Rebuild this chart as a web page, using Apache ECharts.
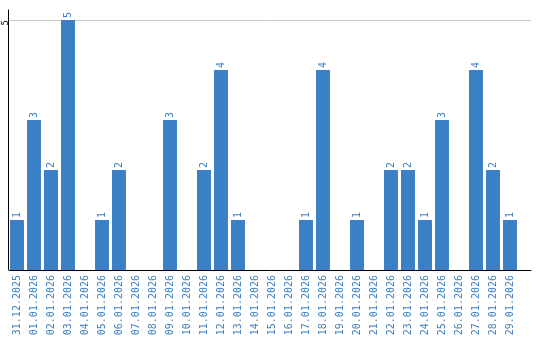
<!DOCTYPE html>
<html><head><meta charset="utf-8">
<script src="https://cdn.jsdelivr.net/npm/echarts@6/dist/echarts.min.js"></script>
<style>html,body{margin:0;padding:0;background:#fff}#c{width:540px;height:340px}</style>
</head><body><div id="c"></div>
<script>
const categories = ['31.12.2025','01.01.2026','02.01.2026','03.01.2026','04.01.2026','05.01.2026','06.01.2026','07.01.2026','08.01.2026','09.01.2026','10.01.2026','11.01.2026','12.01.2026','13.01.2026','14.01.2026','15.01.2026','16.01.2026','17.01.2026','18.01.2026','19.01.2026','20.01.2026','21.01.2026','22.01.2026','23.01.2026','24.01.2026','25.01.2026','26.01.2026','27.01.2026','28.01.2026','29.01.2026'];
const values = [1,3,2,5,0,1,2,0,0,3,0,2,4,1,0,0,0,1,4,0,1,0,2,2,1,3,0,4,2,1];
const yTicks = [5];

const blue = '#3b7fc4';
const chart = echarts.init(document.getElementById('c'), null, {renderer:'canvas'});
chart.setOption({
  animation:false,
  grid:[
    {left:8.5, top:10, width:510, bottom:70, outerBoundsMode:'none', containLabel:false},
    {left:9.5, top:20, right:9, bottom:70, outerBoundsMode:'none', containLabel:false}
  ],
  xAxis:[
    {type:'category', data:categories, gridIndex:0,
     axisLine:{show:false}, axisTick:{show:false},
     axisLabel:{rotate:90, interval:0, color:blue, fontFamily:'DejaVu Sans Mono', fontSize:10, margin:5}},
    {type:'value', gridIndex:1, min:0, max:1,
     axisLine:{show:true, lineStyle:{color:'#000', width:1}}, axisTick:{show:false}, axisLabel:{show:false}, splitLine:{show:false}}
  ],
  yAxis:[
    {type:'value', gridIndex:0, min:0, max:5.2, interval:5,
     axisLine:{show:true, lineStyle:{color:'#000', width:1}}, axisTick:{show:false},
     splitLine:{show:false},
     axisLabel:{rotate:90, margin:-2, align:'right', verticalAlign:'bottom', fontSize:9, fontFamily:'DejaVu Sans Mono', color:'#000',
       formatter:v=>yTicks.includes(v)?String(v):''}},
    {type:'value', gridIndex:1, min:0, max:5, interval:5,
     axisLine:{show:false}, axisTick:{show:false}, axisLabel:{show:false},
     splitLine:{show:true, lineStyle:{color:'#c8c8c8', width:1}}}
  ],
  series:[{
    type:'bar', data:values, xAxisIndex:0, yAxisIndex:0,
    barCategoryGap:'18%',
    itemStyle:{color:blue},
    label:{show:true, position:'top', rotate:90, align:'left', verticalAlign:'middle', distance:2,
      color:blue, fontSize:10, fontFamily:'DejaVu Sans Mono',
      formatter:p=>p.value>0?String(p.value):''},
    z:3
  }]
});
</script></body></html>
